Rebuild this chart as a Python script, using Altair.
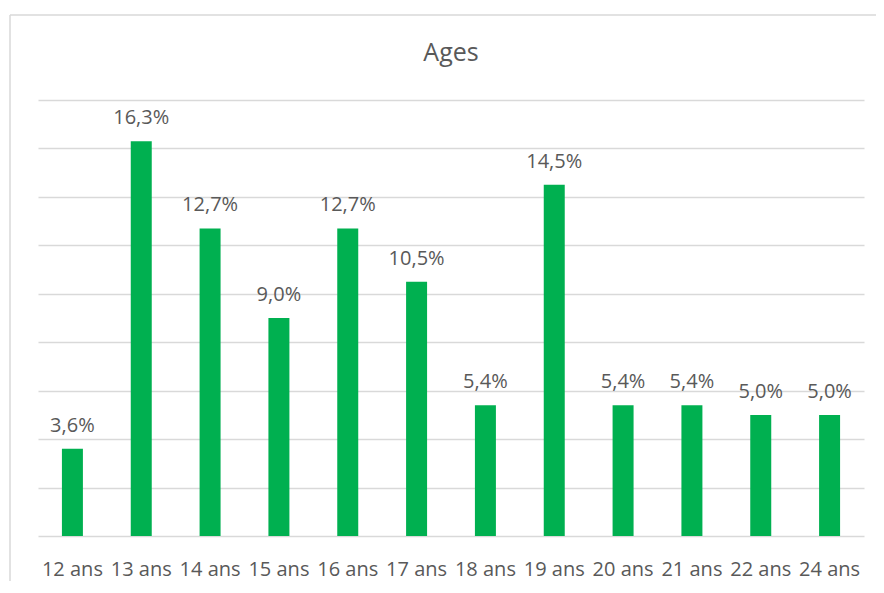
import altair as alt
import pandas as pd

categories = ["12 ans", "13 ans", "14 ans", "15 ans", "16 ans", "17 ans",
              "18 ans", "19 ans", "20 ans", "21 ans", "22 ans", "24 ans"]
values = [3.6, 16.3, 12.7, 9.0, 12.7, 10.5, 5.4, 14.5, 5.4, 5.4, 5.0, 5.0]
grid_values = [0, 2, 4, 6, 8, 10, 12, 14, 16, 18]

df = pd.DataFrame({"age": categories, "pct": values})
df["label"] = [f"{v:.1f}".replace(".", ",") + "%" for v in values]
one = pd.DataFrame({"k": [0]})

W, H = 826, 436
FONT = "Open Sans"
TXT = "#595959"
GRID = "#d9d9d9"

x = alt.X("age:N", sort=categories, title=None,
          scale=alt.Scale(paddingInner=0.695, paddingOuter=0.3475),
          axis=alt.Axis(labelAngle=0, labelFont=FONT, labelFontSize=20,
                        labelColor=TXT, domain=False, ticks=False, tickSize=0,
                        labelPadding=39, labelBaseline="alphabetic", grid=False))
y = alt.Y("pct:Q", title=None,
          scale=alt.Scale(domain=[0, 18], nice=False, zero=True),
          axis=alt.Axis(values=grid_values, labels=False, ticks=False,
                        domain=False, grid=True, gridColor=GRID, gridWidth=1.5))

bars = alt.Chart(df).mark_bar(color="#00B050").encode(x=x, y=y)
text = alt.Chart(df).mark_text(dy=-17, baseline="alphabetic", font=FONT,
                               fontSize=20, color=TXT).encode(x=x, y=y, text="label:N")

border_top = alt.Chart(one).mark_rule(color=GRID, strokeWidth=1.5).encode(
    x=alt.value(-28), x2=alt.value(W + 20), y=alt.value(-85))
border_left = alt.Chart(one).mark_rule(color=GRID, strokeWidth=1.5).encode(
    x=alt.value(-28), y=alt.value(-85), y2=alt.value(H + 60))

chart = alt.layer(border_top, border_left, bars, text).properties(
    width=W, height=H,
    title=alt.TitleParams("Ages", font=FONT, fontSize=25, color=TXT,
                          fontWeight="normal", anchor="middle", frame="group",
                          baseline="alphabetic", offset=-72),
    autosize=alt.AutoSizeParams(type="none"),
    padding={"left": 30, "top": 92, "right": 12, "bottom": 45},
).configure(background="white").configure_view(stroke=None, strokeWidth=0)

chart.save("out.html", embed_options={"renderer": "svg", "actions": False})
